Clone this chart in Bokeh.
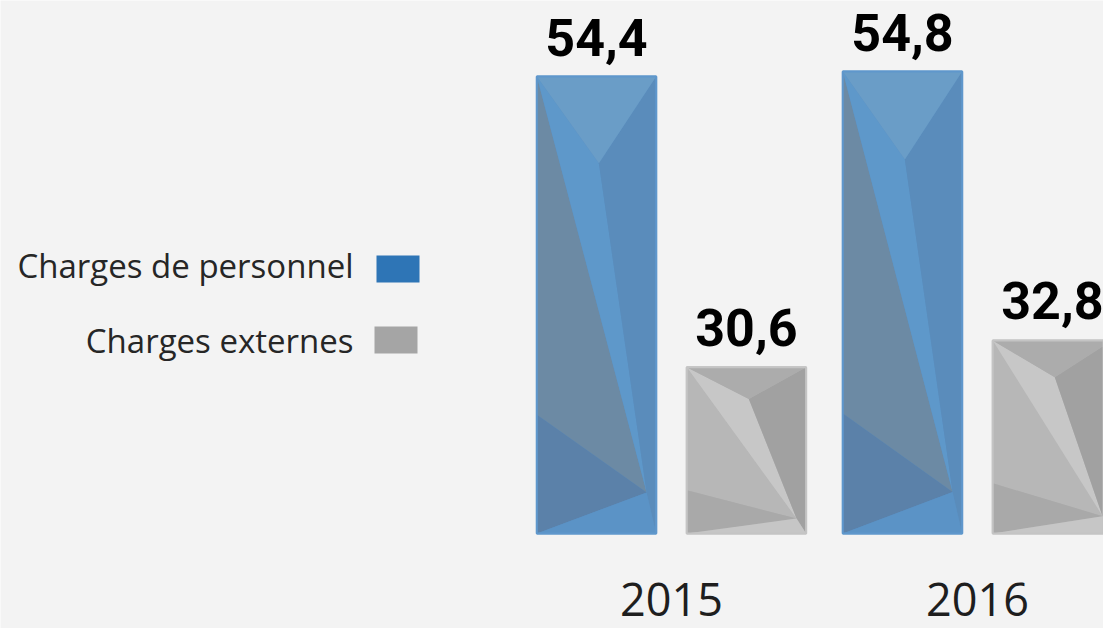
from bokeh.plotting import figure
from bokeh.models import ColumnDataSource, LabelSet, Label, BoxAnnotation
from bokeh.core.properties import value
from bokeh.embed import file_html
from bokeh.resources import INLINE

# ---- data ----
years = ["2015", "2016"]
series = ["Charges de personnel", "Charges externes"]
personnel = [54.4, 54.8]
externes = [30.6, 32.8]
personnel_labels = ["54,4", "54,8"]
externes_labels = ["30,6", "32,8"]

# ---- style ----
W, H = 1103, 628
BASE = 17.0          # visual baseline of the infographic bars
BAR_W = 0.39
DODGE = 0.245
Y0, Y1 = 9.23, 60.62
BG = "#f3f3f3"
LEGEND_COLORS = ["#2e75b6", "#a5a5a5"]

p = figure(width=W, height=H, x_range=(-2.193, 1.412), y_range=(Y0, Y1),
           output_backend="svg", toolbar_location=None, min_border=0,
           x_axis_location=None, y_axis_location=None)
p.grid.visible = False
p.outline_line_color = None
p.background_fill_color = BG
p.border_fill_color = BG

# facet templates: (u across width 0..1, t from top 0..1)
facet_shapes = [
    [(0, 0), (0.92, 0.91), (0, 0.74)],                 # left
    [(0, 0), (0.52, 0.19), (0.92, 0.91)],              # centre strip
    [(0.52, 0.19), (1, 0), (1, 1), (0.92, 0.91)],      # right
    [(0, 0.74), (0.92, 0.91), (0, 1)],                 # lower left
    [(0, 1), (0.92, 0.91), (1, 1)],                    # bottom
    [(0, 0), (1, 0), (0.52, 0.19)],                    # top
]
blue_facets = ["#6c8aa4", "#5e98ca", "#5a8cbb", "#5b81a9", "#5b93c6", "#6a9dc7"]
grey_facets = ["#b7b7b7", "#c7c7c7", "#a1a1a1", "#a9a9a9", "#c6c6c6", "#acacac"]


def draw_series(xs, vals, base_color, edge_color, facet_colors):
    src = ColumnDataSource(dict(x=xs, top=vals))
    p.vbar(x="x", top="top", bottom=BASE, width=BAR_W, source=src,
           fill_color=base_color, line_color=edge_color, line_width=2)
    pxs, pys, cols = [], [], []
    for xc, v in zip(xs, vals):
        left = xc - BAR_W / 2
        for shape, col in zip(facet_shapes, facet_colors):
            pxs.append([left + u * BAR_W for u, t in shape])
            pys.append([v - t * (v - BASE) for u, t in shape])
            cols.append(col)
    p.patches(xs=pxs, ys=pys, fill_color=cols, line_color=None)
    p.vbar(x="x", top="top", bottom=BASE, width=BAR_W, source=src,
           fill_color=None, line_color=edge_color, line_width=2)


idx = list(range(len(years)))
x_pers = [i - DODGE for i in idx]
x_ext = [i + DODGE for i in idx]

draw_series(x_pers, personnel, "#5b8fc0", "#5f97cc", blue_facets)
draw_series(x_ext, externes, "#b0b0b0", "#c4c4c4", grey_facets)

# value labels
lab_src = ColumnDataSource(dict(x=x_pers + x_ext, y=personnel + externes,
                                text=personnel_labels + externes_labels))
p.add_layout(LabelSet(x="x", y="y", text="text", source=lab_src, y_offset=21,
                      text_align="center", text_baseline="alphabetic",
                      text_font=value("Roboto"), text_font_style="bold",
                      text_font_size="52px", text_color="#000000"))

# year labels
yr_src = ColumnDataSource(dict(x=idx, y=[Y0] * len(years), text=years))
p.add_layout(LabelSet(x="x", y="y", text="text", source=yr_src, y_offset=13,
                      text_align="center", text_baseline="alphabetic",
                      text_font=value("Open Sans"), text_font_size="45px",
                      text_color="#1e1e1e"))

# manual legend (text left of swatch)
leg_text_y = [363, 288]
leg_box = [(376, 419, 373, 346), (374, 417, 302, 275)]
for name, ty, (l, r, t, b), col in zip(series, leg_text_y, leg_box, LEGEND_COLORS):
    p.add_layout(Label(x=353, y=ty, x_units="screen", y_units="screen", text=name,
                       text_align="right", text_baseline="alphabetic",
                       text_font="Open Sans", text_font_size="33px",
                       text_color="#262626"))
    p.add_layout(BoxAnnotation(left=l, right=r, top=t, bottom=b,
                               left_units="screen", right_units="screen",
                               top_units="screen", bottom_units="screen",
                               fill_color=col, fill_alpha=1.0, line_color=None))

open("out.html", "w").write(file_html(p, INLINE))
